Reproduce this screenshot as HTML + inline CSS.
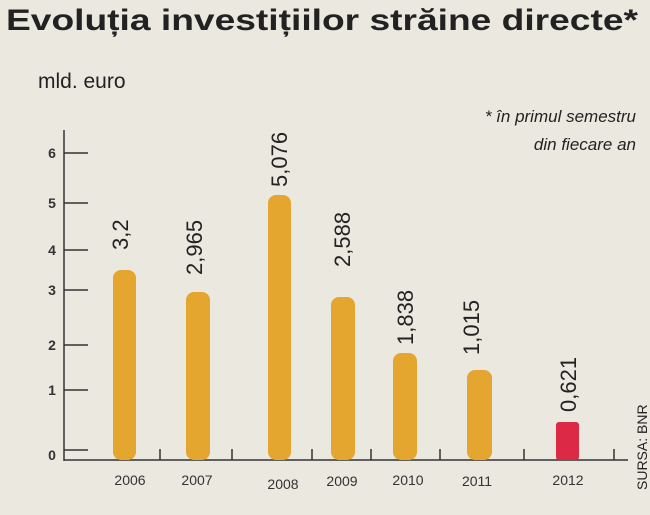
<!DOCTYPE html>
<html><head><meta charset="utf-8"><style>
body{margin:0;width:650px;height:510px;background:#ebe8e0;overflow:hidden;font-family:"Liberation Sans",sans-serif}
</style></head><body>
<svg width="650" height="510" xmlns="http://www.w3.org/2000/svg" font-family="Liberation Sans, sans-serif">
<rect width="650" height="510" fill="#ebe8e0"/>
<text x="6" y="30" font-size="30" font-weight="bold" fill="#222" textLength="632" lengthAdjust="spacingAndGlyphs">Evoluția investițiilor străine directe*</text>
<text x="38" y="88" font-size="21" fill="#222">mld. euro</text>
<text x="636" y="122" font-size="17" font-style="italic" fill="#222" text-anchor="end">* în primul semestru</text>
<text x="636" y="150" font-size="17" font-style="italic" fill="#222" text-anchor="end">din fiecare an</text>
<g stroke="#333" stroke-width="1.5">
<line x1="64" y1="130" x2="64" y2="461"/>
<line x1="64" y1="460" x2="628" y2="460"/>
<line x1="64" y1="153" x2="88" y2="153"/><line x1="64" y1="203" x2="88" y2="203"/>
<line x1="64" y1="250" x2="88" y2="250"/><line x1="64" y1="290" x2="88" y2="290"/>
<line x1="64" y1="345" x2="88" y2="345"/><line x1="64" y1="390" x2="88" y2="390"/>
<line x1="64" y1="450" x2="88" y2="450"/>
<line x1="160" y1="449" x2="160" y2="460"/><line x1="232" y1="449" x2="232" y2="460"/>
<line x1="312" y1="449" x2="312" y2="460"/><line x1="371" y1="449" x2="371" y2="460"/>
<line x1="440" y1="449" x2="440" y2="460"/><line x1="524" y1="449" x2="524" y2="460"/>
<line x1="614" y1="449" x2="614" y2="460"/>
</g>
<g font-size="14" font-weight="bold" fill="#333" text-anchor="middle">
<text x="52" y="158">6</text><text x="52" y="208">5</text><text x="52" y="255">4</text>
<text x="52" y="295">3</text><text x="52" y="350">2</text><text x="52" y="395">1</text><text x="52" y="460">0</text>
</g>
<g fill="#e5a630">
<rect x="113" y="270" width="23" height="190" rx="8"/>
<rect x="186" y="292" width="24" height="168" rx="8"/>
<rect x="268" y="195" width="23" height="265" rx="8"/>
<rect x="331" y="297" width="24" height="163" rx="8"/>
<rect x="393" y="353" width="24" height="107" rx="8"/>
<rect x="467" y="370" width="25" height="90" rx="8"/>
</g>
<rect x="556" y="422" width="23" height="38" rx="3" fill="#dc2945"/>
<g font-size="22" fill="#222">
<text transform="translate(128,250) rotate(-90)">3,2</text>
<text transform="translate(202,275) rotate(-90)">2,965</text>
<text transform="translate(287,187) rotate(-90)">5,076</text>
<text transform="translate(350,267) rotate(-90)">2,588</text>
<text transform="translate(413,345) rotate(-90)">1,838</text>
<text transform="translate(479,355) rotate(-90)">1,015</text>
<text transform="translate(576,412) rotate(-90)">0,621</text>
</g>
<g font-size="14" fill="#333" text-anchor="middle">
<text x="130" y="485">2006</text><text x="197" y="485">2007</text><text x="283" y="489">2008</text>
<text x="342" y="486">2009</text><text x="408" y="485">2010</text><text x="477" y="486">2011</text>
<text x="568" y="485">2012</text>
</g>
<text transform="translate(647,490) rotate(-90)" font-size="14" fill="#222">SURSA: BNR</text>
</svg>
</body></html>
